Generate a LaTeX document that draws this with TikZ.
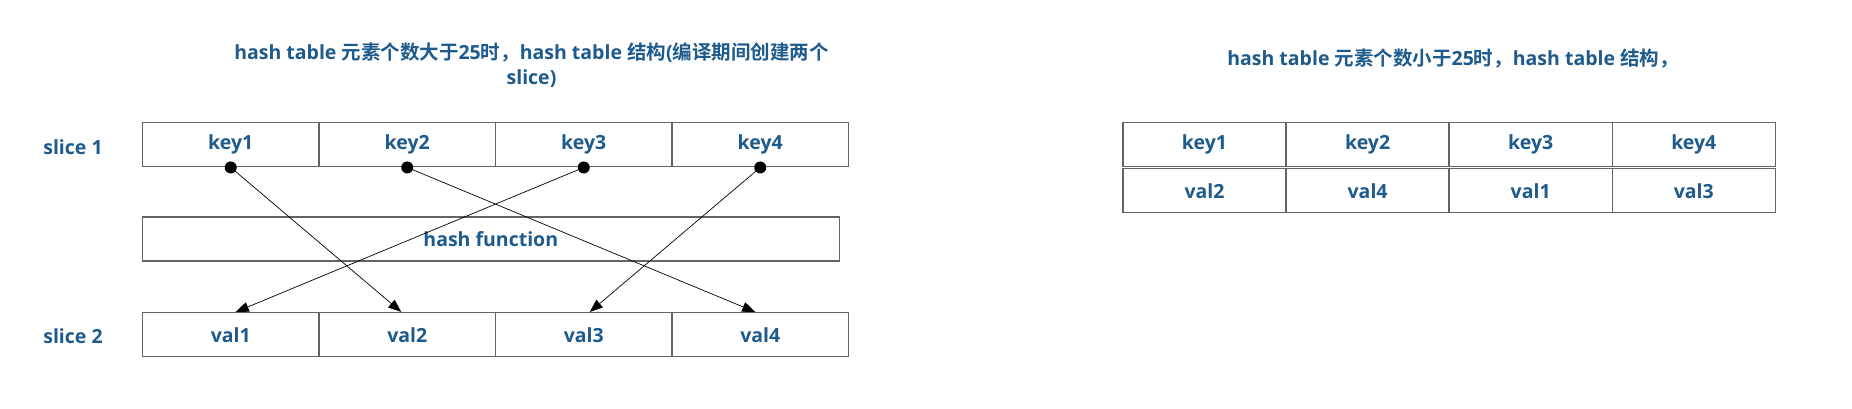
\documentclass[tikz,border=0pt]{standalone}
\usepackage{fontspec}
\setmainfont{Open Sans}[BoldFont=* Bold]
\newfontfamily\cjk{Noto Sans CJK SC}[BoldFont=* Bold]
\usetikzlibrary{arrows.meta,calc}
\definecolor{txtblue}{RGB}{30,90,140}
\definecolor{boxgray}{RGB}{100,100,100}
\tikzset{
  txt/.style={text=txtblue,font=\fontsize{19.5}{25}\selectfont\bfseries},
  cellbox/.style={draw=boxgray,line width=1.5pt,minimum height=44pt,inner sep=0pt,txt},
  lcell/.style={cellbox,minimum width=176.5pt},
  rcell/.style={cellbox,minimum width=163.1pt},
  dotn/.style={circle,fill=black,minimum size=12pt,inner sep=0pt},
  arr/.style={draw=black,line width=0.7pt,-{Triangle[length=13pt,width=10pt]}}
}
\begin{document}
\begin{tikzpicture}[x=1pt,y=-1pt]
\useasboundingbox (0,0) rectangle (1852,408);
% titles
\node[txt,align=center] (t1) at (531.5,65) {hash table {\cjk\bfseries 元素个数大于}25{\cjk\bfseries 时，}hash table {\cjk\bfseries 结构}({\cjk\bfseries 编译期间创建两个}\\slice)};
\node[txt] (t2) at (1453,59) {hash table {\cjk\bfseries 元素个数小于}25{\cjk\bfseries 时，}hash table {\cjk\bfseries 结构，}};
% labels
\node[txt] (s1) at (73,147) {slice 1};
\node[txt] (s2) at (73,336) {slice 2};
% slice 1
\node[lcell] (k1) at (230.75,144.7) {key1};
\node[lcell] (k2) at (407.25,144.7) {key2};
\node[lcell] (k3) at (583.75,144.7) {key3};
\node[lcell] (k4) at (760.25,144.7) {key4};
% hash function
\node[cellbox,minimum width=697pt] (hf) at (490.8,238.9) {hash function};
% slice 2
\node[lcell] (v1) at (230.75,334.7) {val1};
\node[lcell] (v2) at (407.25,334.7) {val2};
\node[lcell] (v3) at (583.75,334.7) {val3};
\node[lcell] (v4) at (760.25,334.7) {val4};
% dots
\node[dotn] (d1) at (k1.south) {};
\node[dotn] (d2) at (k2.south) {};
\node[dotn] (d3) at (k3.south) {};
\node[dotn] (d4) at (k4.south) {};
% arrows
\draw[arr] (d1.center) -- ($(v2.north)+(-6,0)$);
\draw[arr] (d2.center) -- ($(v4.north)+(-5,0)$);
\draw[arr] (d3.center) -- ($(v1.north)+(5,0)$);
\draw[arr] (d4.center) -- ($(v3.north)+(6,0)$);
% right table
\node[rcell] (rk1) at (1204.5,144.7) {key1};
\node[rcell] (rk2) at (1367.6,144.7) {key2};
\node[rcell] (rk3) at (1530.7,144.7) {key3};
\node[rcell] (rk4) at (1693.8,144.7) {key4};
\node[rcell] (rv1) at (1204.5,190.7) {val2};
\node[rcell] (rv2) at (1367.6,190.7) {val4};
\node[rcell] (rv3) at (1530.7,190.7) {val1};
\node[rcell] (rv4) at (1693.8,190.7) {val3};
\end{tikzpicture}
\end{document}
